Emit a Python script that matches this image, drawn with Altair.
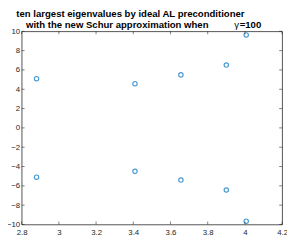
import altair as alt
import pandas as pd

xs = [2.880, 3.409, 3.656, 3.900, 4.007, 2.880, 3.409, 3.656, 3.900, 4.007]
ys = [5.10, 4.58, 5.49, 6.51, 9.63, -5.10, -4.50, -5.40, -6.43, -9.66]
x_ticks = [2.8, 3.0, 3.2, 3.4, 3.6, 3.8, 4.0, 4.2]
y_ticks = [-10, -8, -6, -4, -2, 0, 2, 4, 6, 8, 10]
title1 = "ten largest eigenvalues by ideal AL preconditioner"
title2 = "with the new Schur approximation when"

W, H = 267, 198
df = pd.DataFrame({"x": xs, "y": ys})
xt = pd.DataFrame({"x": x_ticks})
yt = pd.DataFrame({"y": y_ticks})

xs_ = alt.Scale(domain=[2.8, 4.2], nice=False, zero=False)
ys_ = alt.Scale(domain=[-10, 10], nice=False, zero=False)

xaxis = alt.Axis(values=x_ticks, title=None,
                 labelExpr="datum.value == 3 || datum.value == 4 ? format(datum.value, 'd') : format(datum.value, '.1f')",
                 ticks=False, labelFontSize=8, labelColor="#262626", labelPadding=4, grid=False, domain=False,
                 labelFlush=False, labelOverlap=False)
yaxis = alt.Axis(values=y_ticks, title=None, format="d", ticks=False, labelFontSize=8, labelColor="#262626",
                 labelPadding=2, grid=False, domain=False, labelOverlap=False, labelFlush=False)

X = alt.X("x:Q", scale=xs_, axis=xaxis)
Y = alt.Y("y:Q", scale=ys_, axis=yaxis)

pts = alt.Chart(df).mark_point(shape="circle", filled=False, color="#0072BD", size=20, strokeWidth=1.2).encode(
    x=X, y=Y)

tk = dict(color="#262626", strokeWidth=0.6)
xb = alt.Chart(xt).mark_rule(**tk).encode(x=X, y=alt.value(H), y2=alt.value(H - 3))
xtp = alt.Chart(xt).mark_rule(**tk).encode(x=X, y=alt.value(0), y2=alt.value(3))
yl = alt.Chart(yt).mark_rule(**tk).encode(y=Y, x=alt.value(0), x2=alt.value(3))
yr = alt.Chart(yt).mark_rule(**tk).encode(y=Y, x=alt.value(W), x2=alt.value(W - 3))

tf = dict(fontSize=9.8, font="Liberation Sans", color="black", baseline="alphabetic")
t1 = alt.Chart(pd.DataFrame({"t": [title1]})).mark_text(fontWeight="bold", align="center", **tf).encode(
    text="t:N", x=alt.value(111.5), y=alt.value(-14.5))
t2 = alt.Chart(pd.DataFrame({"t": [title2]})).mark_text(fontWeight="bold", align="center", **tf).encode(
    text="t:N", x=alt.value(98), y=alt.value(-3.5))
g1 = alt.Chart(pd.DataFrame({"t": ["γ"]})).mark_text(fontWeight="normal", align="left", **tf).encode(
    text="t:N", x=alt.value(218), y=alt.value(-3.5))
g2 = alt.Chart(pd.DataFrame({"t": ["=100"]})).mark_text(fontWeight="bold", align="left", **tf).encode(
    text="t:N", x=alt.value(223.5), y=alt.value(-3.5))

chart = alt.layer(pts, xb, xtp, yl, yr, t1, t2, g1, g2).properties(
    width=W, height=H,
    autosize=alt.AutoSizeParams(type="none"),
    padding={"left": 14, "top": 21, "right": 5, "bottom": 13},
).configure_view(stroke="#262626", strokeWidth=0.8).configure_axis(labelFont="Liberation Sans")

chart.save("out.html", embed_options={"renderer": "svg", "actions": False})
